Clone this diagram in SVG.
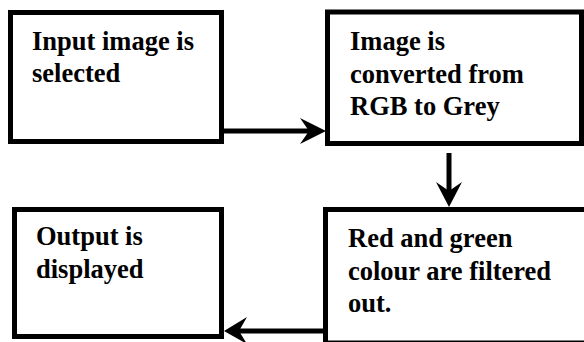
<svg xmlns="http://www.w3.org/2000/svg" width="584" height="342" viewBox="0 0 584 342">
<style>
.box{fill:#fff;stroke:#000;stroke-width:5}
.ln{stroke:#000;stroke-width:5;fill:none}
.ah{fill:#000;stroke:none}
</style>
<rect width="584" height="342" fill="#fff"/>
<g id="n1">
<rect class="box" x="10.5" y="12.5" width="211" height="129"/>
<text x="32" y="50" font-family="'Liberation Serif'" font-weight="bold" font-size="26.5">Input image is</text>
<text x="32" y="82" font-family="'Liberation Serif'" font-weight="bold" font-size="26.5">selected</text>
</g>
<g id="n2">
<rect class="box" x="327.5" y="12" width="254" height="131.5"/>
<text x="350" y="50" font-family="'Liberation Serif'" font-weight="bold" font-size="26.5">Image is</text>
<text x="350" y="82.5" font-family="'Liberation Serif'" font-weight="bold" font-size="26.5">converted from</text>
<text x="350" y="115" font-family="'Liberation Serif'" font-weight="bold" font-size="26.5">RGB to Grey</text>
</g>
<g id="n3">
<rect class="box" x="325.5" y="209.5" width="300" height="133.5"/>
<text x="348" y="247" font-family="'Liberation Serif'" font-weight="bold" font-size="26.5">Red and green</text>
<text x="348" y="279.5" font-family="'Liberation Serif'" font-weight="bold" font-size="26.5">colour are filtered</text>
<text x="348" y="312" font-family="'Liberation Serif'" font-weight="bold" font-size="26.5">out.</text>
</g>
<g id="n4">
<rect class="box" x="14.5" y="209.5" width="207" height="127"/>
<text x="36" y="245" font-family="'Liberation Serif'" font-weight="bold" font-size="26.5">Output is</text>
<text x="36" y="278" font-family="'Liberation Serif'" font-weight="bold" font-size="26.5">displayed</text>
</g>
<g id="connectors">
<path class="ln" d="M224,131 H314"/>
<path class="ah" d="M326,131 L300,118 L309,131 L300,144 Z"/>
<path class="ln" d="M449,153 V195"/>
<path class="ah" d="M449,207 L436,182 L449,191 L462,182 Z"/>
<path class="ln" d="M323,331 H236"/>
<path class="ah" d="M224,331 L247,317 L239,331 L247,344 Z"/>
</g>
</svg>
